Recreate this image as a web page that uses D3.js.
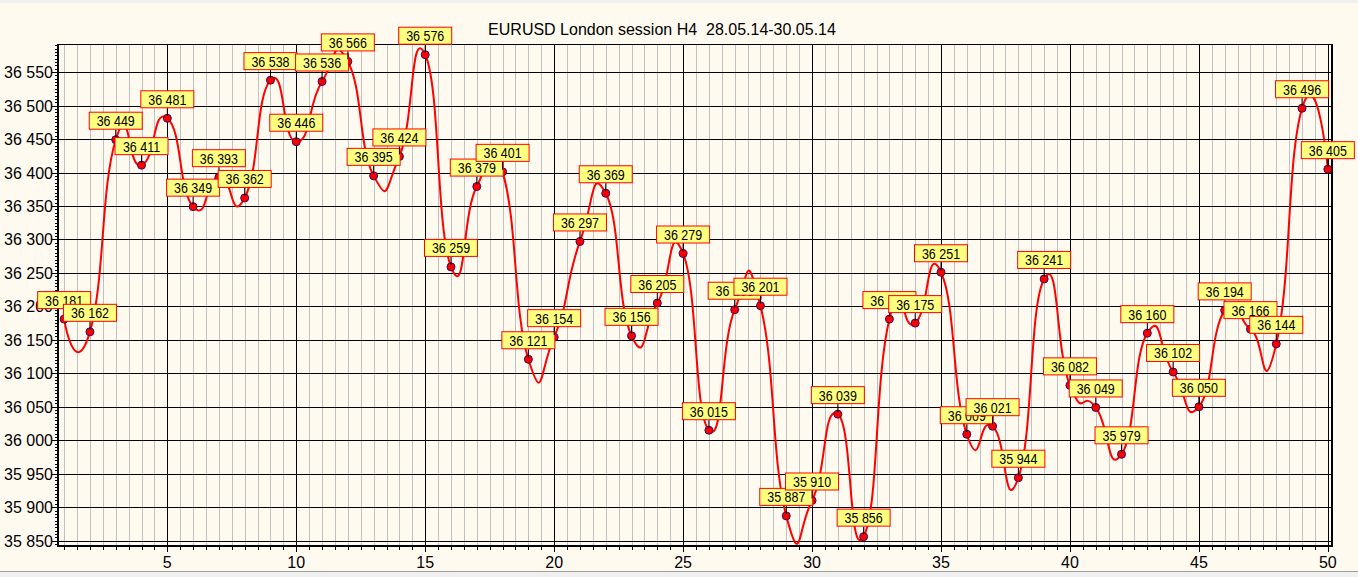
<!DOCTYPE html>
<html>
<head>
<meta charset="utf-8">
<title>EURUSD London session H4</title>
<style>
  body { margin: 0; background: #fffaf0; }
  svg { display: block; font-family: "Liberation Sans", Arial, sans-serif; }
</style>
</head>
<body>
<script src="https://cdn.jsdelivr.net/npm/d3@7"></script>
<script>
// chart data
const chartTitle = "EURUSD London session H4  28.05.14-30.05.14";
const bars = d3.range(1, 51);
const closes = [
  36181, 36162, 36449, 36411, 36481, 36349, 36393, 36362, 36538, 36446,
  36536, 36566, 36395, 36424, 36576, 36259, 36379, 36401, 36121, 36154,
  36297, 36369, 36156, 36205, 36279, 36015, 36195, 36201, 35887, 35910,
  36039, 35856, 36181, 36175, 36251, 36009, 36021, 35944, 36241, 36082,
  36049, 35979, 36160, 36102, 36050, 36194, 36166, 36144, 36496, 36405
];
const yTicks = d3.range(35850, 36551, 50);
const xTicks = [5, 10, 15, 20, 25, 30, 35, 40, 45, 50];

const width = 1358, height = 577;
const pLeft = 59, pRight = 1333, pTop = 44, pBottom = 546;

const fmt = d3.formatLocale({decimal: ".", thousands: " ", grouping: [3], currency: ["", ""]}).format(",d");

const x = d3.scaleLinear().domain([0.8, 50.2]).range([pLeft, pRight]);
const y = d3.scaleLinear().domain([35842, 36592]).range([pBottom, pTop]);

const svg = d3.select("body").append("svg")
  .attr("width", width)
  .attr("height", height);

svg.append("rect").attr("width", width).attr("height", height).attr("fill", "#fffaf0");
svg.append("rect").attr("width", width).attr("height", 3).attr("fill", "#f0f0f0");
svg.append("rect").attr("y", 572).attr("width", width).attr("height", 5).attr("fill", "#f0f0f0");
svg.append("line").attr("x1", 0).attr("x2", width).attr("y1", 571.5).attr("y2", 571.5)
  .attr("stroke", "#a0a0a0");

svg.append("text")
  .attr("x", 662).attr("y", 35)
  .attr("text-anchor", "middle")
  .style("white-space", "pre")
  .style("font-size", "16px")
  .text(chartTitle);

// grid
const grid = svg.append("g").attr("shape-rendering", "crispEdges");
const minorX = d3.range(1, 50.01, 0.5).filter(v => v % 5 !== 0);
grid.selectAll(".minor").data(minorX).join("line")
  .attr("x1", d => Math.round(x(d)) + 0.5).attr("x2", d => Math.round(x(d)) + 0.5)
  .attr("y1", pTop).attr("y2", pBottom)
  .attr("stroke", "#c0c0c0");
grid.selectAll(".majx").data(xTicks).join("line")
  .attr("x1", d => Math.round(x(d)) + 0.5).attr("x2", d => Math.round(x(d)) + 0.5)
  .attr("y1", pTop).attr("y2", pBottom)
  .attr("stroke", "#000");
grid.selectAll(".majy").data(yTicks).join("line")
  .attr("x1", pLeft).attr("x2", pRight)
  .attr("y1", d => Math.round(y(d)) + 0.5).attr("y2", d => Math.round(y(d)) + 0.5)
  .attr("stroke", "#000");

// frame
grid.append("line").attr("x1", pLeft).attr("x2", pRight).attr("y1", pTop + 0.5).attr("y2", pTop + 0.5).attr("stroke", "#000");
grid.append("line").attr("x1", pRight - 1).attr("x2", pRight - 1).attr("y1", pTop).attr("y2", pBottom).attr("stroke", "#000").attr("stroke-width", 2);
grid.append("line").attr("x1", pLeft - 1).attr("x2", pLeft - 1).attr("y1", pTop).attr("y2", pBottom + 1).attr("stroke", "#000").attr("stroke-width", 2);
grid.append("line").attr("x1", pLeft - 1).attr("x2", pRight).attr("y1", pBottom).attr("y2", pBottom).attr("stroke", "#000").attr("stroke-width", 2);

// y axis ticks
const yMinor = d3.range(35845, 36591, 5);
grid.selectAll(".ytk").data(yMinor).join("line")
  .attr("x1", d => d % 50 === 0 ? pLeft - 7 : pLeft - 4).attr("x2", pLeft - 1)
  .attr("y1", d => Math.round(y(d)) + 0.5).attr("y2", d => Math.round(y(d)) + 0.5)
  .attr("stroke", "#000");
svg.append("g").selectAll("text").data(yTicks).join("text")
  .attr("x", pLeft - 6).attr("y", d => y(d) + 6)
  .attr("text-anchor", "end")
  .style("font-size", "16px")
  .text(d => fmt(d));

// x axis ticks
const xMinor = d3.range(1, 50.01, 0.5);
grid.selectAll(".xtk").data(xMinor).join("line")
  .attr("x1", d => Math.round(x(d)) + 0.5).attr("x2", d => Math.round(x(d)) + 0.5)
  .attr("y1", pBottom).attr("y2", d => d % 5 === 0 ? pBottom + 6 : pBottom + 4)
  .attr("stroke", "#000");
svg.append("g").selectAll("text").data(xTicks).join("text")
  .attr("x", d => x(d)).attr("y", 568)
  .attr("text-anchor", "middle")
  .style("font-size", "16px")
  .text(d => d);

// spline
const pts = bars.map((b, i) => [b, closes[i]]);
const line = d3.line()
  .x(d => x(d[0])).y(d => y(d[1]))
  .curve(d3.curveCardinal.tension(-0.75));
svg.append("path")
  .attr("d", line(pts))
  .attr("fill", "none")
  .attr("stroke", "#ff0000")
  .attr("stroke-width", 2);

svg.append("g").selectAll("circle").data(pts).join("circle")
  .attr("cx", d => x(d[0])).attr("cy", d => y(d[1]))
  .attr("r", 4)
  .attr("fill", "#ff0000")
  .attr("stroke", "#3a0a5a")
  .attr("stroke-width", 1);

// value labels
const lab = svg.append("g").selectAll("g").data(pts).join("g")
  .attr("transform", d => `translate(${x(d[0])},${y(d[1])})`);
lab.append("line")
  .attr("x1", 0).attr("x2", 0).attr("y1", -2).attr("y2", -10)
  .attr("stroke", "#000");
lab.append("rect")
  .attr("x", -26.5).attr("y", -27.5)
  .attr("width", 53).attr("height", 17)
  .attr("fill", "#ffff80")
  .attr("stroke", "#ff0000");
lab.append("text")
  .attr("y", -13.5)
  .attr("text-anchor", "middle")
  .attr("transform", "scale(0.86,1)")
  .style("font-size", "14.5px")
  .text(d => fmt(d[1]));
</script>
</body>
</html>
